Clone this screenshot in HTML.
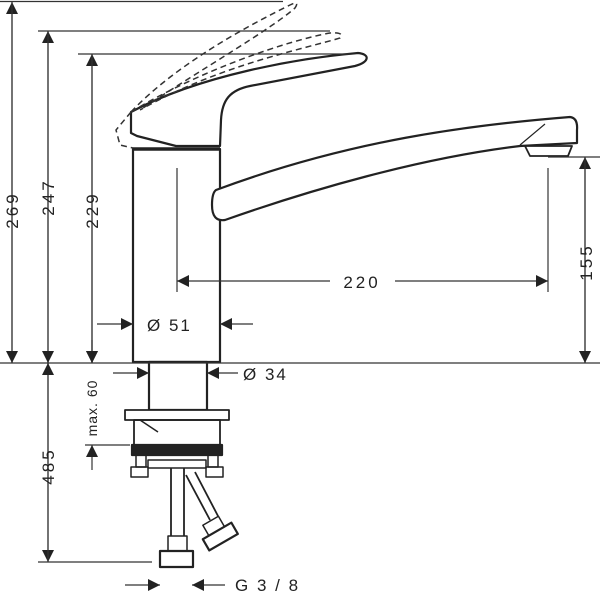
<!DOCTYPE html>
<html><head><meta charset="utf-8"><style>html,body{margin:0;padding:0;background:#fff}svg{display:block}</style></head>
<body>
<svg width="600" height="600" viewBox="0 0 600 600" xmlns="http://www.w3.org/2000/svg" font-family="Liberation Sans, sans-serif">
<defs>
<marker id="a" viewBox="0 0 10 10" refX="10" refY="5" markerWidth="12" markerHeight="12" markerUnits="userSpaceOnUse" orient="auto"><path d="M0,0L10,5L0,10z" fill="#222"/></marker>
</defs>
<!-- faucet -->
<g stroke="#222" stroke-width="2.2" fill="none" stroke-linejoin="round">
<rect x="133" y="149" width="87" height="213" fill="#fff"/>
<line x1="133" y1="149" x2="220" y2="149" stroke-width="3.5"/>
<path d="M131,112 L131,133 L137,136 L176,146 L220,146 L221,120 C222,100 230,90 250,86 L355,66 C370,62 370,54 358,53 C300,58 200,75 131,112 Z" fill="#fff"/>
<path d="M216,190 C350,140 470,125 570,117 Q578,118 577,130 L577,143 L520,146 C420,158 310,190 225,220 Q212,222 212,205 Q212,193 216,190 Z" fill="#fff"/>
<path d="M525,146 L530,156 L568,156 L572,146 Z" fill="#fff" stroke-width="1.8"/>
<line x1="520" y1="145" x2="545" y2="124" stroke-width="1.2"/>
<rect x="149" y="362" width="58" height="48" fill="#fff"/>
<rect x="125" y="410" width="104" height="10" fill="#fff" stroke-width="1.8"/>
<rect x="134" y="420" width="86" height="25" stroke-width="1.8"/>
<line x1="140" y1="420" x2="158" y2="432" stroke-width="1.5"/>
<rect x="132" y="445" width="90" height="10" fill="#222"/>
<rect x="136" y="455" width="10" height="12" stroke-width="1.5"/>
<rect x="208" y="455" width="10" height="12" stroke-width="1.5"/>
<rect x="131" y="467" width="17" height="10" stroke-width="1.5"/>
<rect x="206" y="467" width="17" height="10" stroke-width="1.5"/>
<rect x="148" y="460" width="58" height="8" stroke-width="1.5"/>
<line x1="171" y1="468" x2="171" y2="536" stroke-width="1.8"/>
<line x1="184" y1="468" x2="184" y2="536" stroke-width="1.8"/>
<line x1="186" y1="475" x2="210" y2="520" stroke-width="1.8"/>
<line x1="195" y1="472" x2="218" y2="516" stroke-width="1.8"/>
<rect x="168" y="536" width="19" height="15" stroke-width="1.5"/>
<rect x="160" y="551" width="33" height="16" stroke-width="2.2"/>
<g transform="rotate(-30 220 535)"><rect x="210" y="518" width="18" height="12" stroke-width="1.5"/><rect x="203" y="530" width="33" height="13" stroke-width="2.2"/></g>
</g>
<!-- dashed handles -->
<g stroke="#333" stroke-width="1.5" fill="none" stroke-dasharray="6,4">
<path d="M131,112 C180,60 260,20 290,5 Q300,0 295,8 C270,30 200,70 140,110"/>
<path d="M131,112 C200,70 290,40 330,33 Q345,32 340,38 C300,50 220,65 140,110"/>
<path d="M131,112 L116,130 L120,145 L133,148"/>
</g>
<g stroke="#333" stroke-width="1.2" fill="none">
<line x1="0" y1="1.5" x2="283" y2="1.5"/>
<line x1="38" y1="31" x2="330" y2="31"/>
<line x1="78" y1="54" x2="350" y2="54"/>
<line x1="0" y1="363" x2="600" y2="363"/>
<line x1="548" y1="157" x2="600" y2="157"/>
<line x1="85" y1="445" x2="130" y2="445"/>
<line x1="38" y1="562" x2="152" y2="562"/>
<line x1="177" y1="168" x2="177" y2="292"/>
<line x1="548" y1="168" x2="548" y2="292"/>
<line x1="12" y1="363" x2="12" y2="2" marker-end="url(#a)"/>
<line x1="12" y1="2" x2="12" y2="363" marker-end="url(#a)"/>
<line x1="48" y1="363" x2="48" y2="31" marker-end="url(#a)"/>
<line x1="48" y1="31" x2="48" y2="363" marker-end="url(#a)"/>
<line x1="92" y1="363" x2="92" y2="54" marker-end="url(#a)"/>
<line x1="92" y1="54" x2="92" y2="363" marker-end="url(#a)"/>
<line x1="585" y1="363" x2="585" y2="157" marker-end="url(#a)"/>
<line x1="585" y1="157" x2="585" y2="363" marker-end="url(#a)"/>
<line x1="330" y1="281" x2="177" y2="281" marker-end="url(#a)"/>
<line x1="395" y1="281" x2="548" y2="281" marker-end="url(#a)"/>
<line x1="97" y1="324" x2="133" y2="324" marker-end="url(#a)"/>
<line x1="253" y1="324" x2="220" y2="324" marker-end="url(#a)"/>
<line x1="113" y1="373" x2="149" y2="373" marker-end="url(#a)"/>
<line x1="238" y1="373" x2="207" y2="373" marker-end="url(#a)"/>
<line x1="48" y1="363" x2="48" y2="562" marker-end="url(#a)"/>
<line x1="48" y1="562" x2="48" y2="363" marker-end="url(#a)"/>
<line x1="92" y1="340" x2="92" y2="363" marker-end="url(#a)"/>
<line x1="92" y1="470" x2="92" y2="445" marker-end="url(#a)"/>
<line x1="125" y1="585" x2="160" y2="585" marker-end="url(#a)"/>
<line x1="225" y1="585" x2="192" y2="585" marker-end="url(#a)"/>
</g>
<g fill="#222" font-size="17" letter-spacing="3">
<text transform="translate(18,210) rotate(-90)" text-anchor="middle">269</text>
<text transform="translate(54,197) rotate(-90)" text-anchor="middle">247</text>
<text transform="translate(98,210) rotate(-90)" text-anchor="middle">229</text>
<text transform="translate(592,262) rotate(-90)" text-anchor="middle">155</text>
<text transform="translate(54,466) rotate(-90)" text-anchor="middle">485</text>
<text x="362" y="288" text-anchor="middle">220</text>
<text x="147" y="331" letter-spacing="2">Ø 51</text>
<text x="243" y="380" letter-spacing="2">Ø 34</text>
<text x="235" y="591" letter-spacing="2">G 3 / 8</text>
<text transform="translate(97,408) rotate(-90)" text-anchor="middle" font-size="14" letter-spacing="1">max. 60</text>
</g>
</svg>
</body></html>
